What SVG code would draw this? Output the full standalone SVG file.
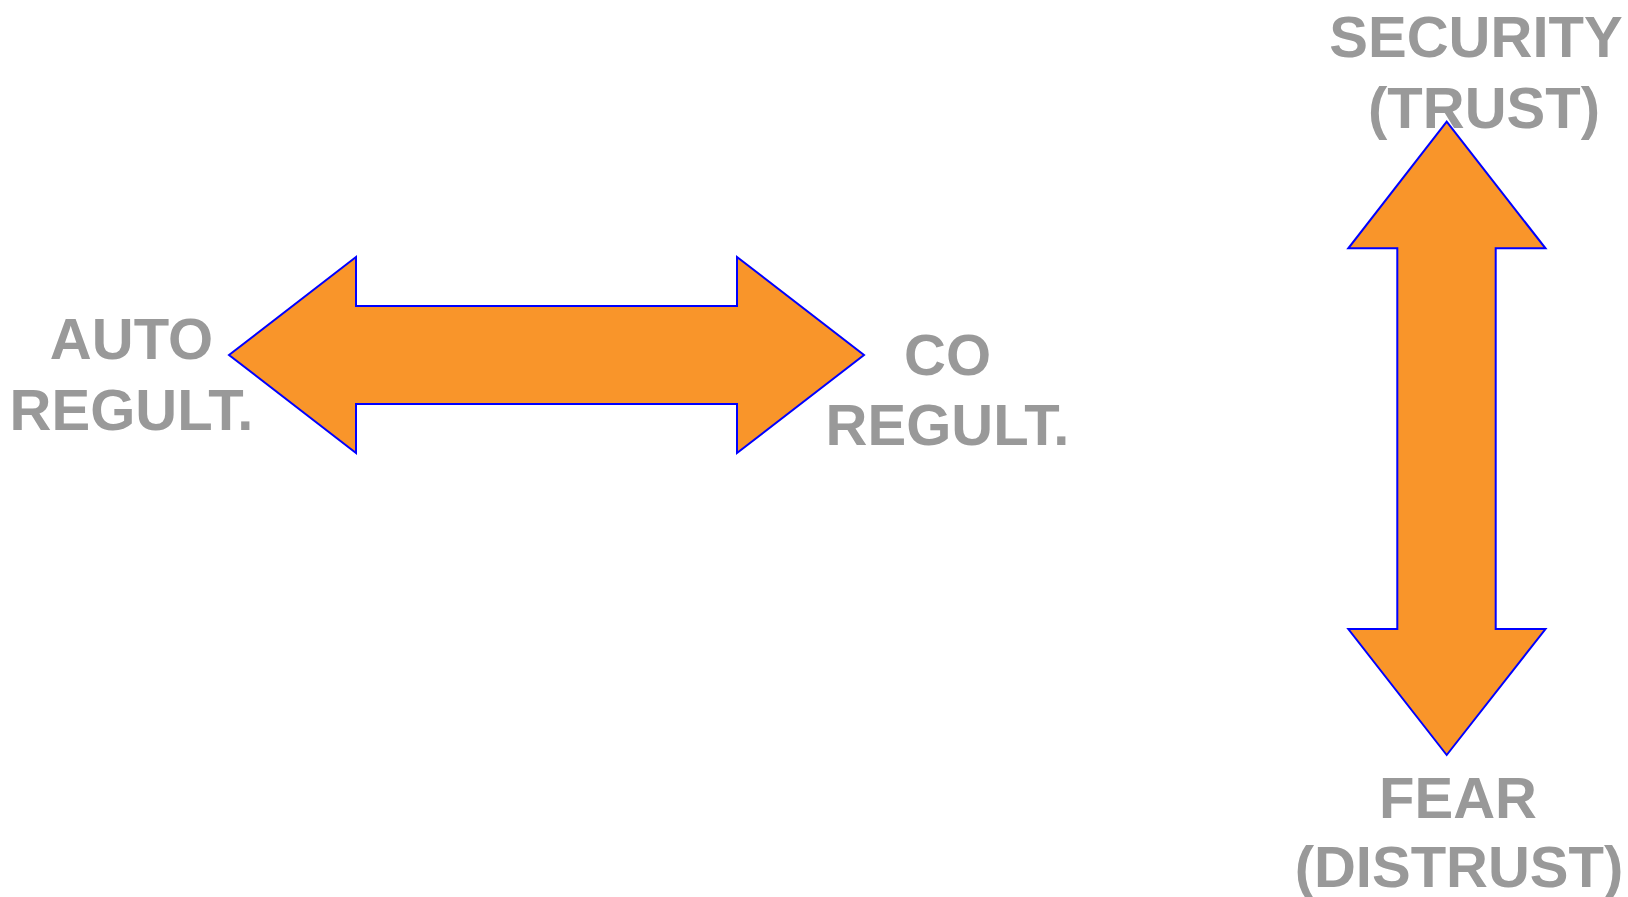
<svg xmlns="http://www.w3.org/2000/svg" width="1628" height="897" viewBox="0 0 1628 897">
<style>
.arrow{fill:#F9952A;stroke:#0000FF;stroke-width:2;stroke-linejoin:miter}
.lbl{font-family:"Liberation Sans",Arial,sans-serif;font-weight:bold;font-size:58px;fill:#999999;text-anchor:middle}
</style>
<rect width="1628" height="897" fill="#FFFFFF"/>
<g id="connectors">
<polygon id="h-arrow" class="arrow" points="229,355 356,257 356,306 737,306 737,257 864,355 737,453 737,404 356,404 356,453"/>
<polygon id="v-arrow" class="arrow" points="1446.7,121.7 1545.5,248.3 1495.7,248.3 1495.7,629 1545.5,629 1446.7,755 1348.3,629 1397.3,629 1397.3,248.3 1348.3,248.3"/>
</g>
<g id="auto">
<text class="lbl" x="131.5" y="359">AUTO</text>
<text class="lbl" x="131.5" y="430">REGULT.</text>
</g>
<g id="co">
<text class="lbl" x="947.5" y="375">CO</text>
<text class="lbl" x="947.5" y="445">REGULT.</text>
</g>
<g id="security">
<text class="lbl" x="1476" y="57">SECURITY</text>
<text class="lbl" x="1484" y="128">(TRUST)</text>
</g>
<g id="fear">
<text class="lbl" x="1458" y="818">FEAR</text>
<text class="lbl" x="1459" y="887">(DISTRUST)</text>
</g>
</svg>
